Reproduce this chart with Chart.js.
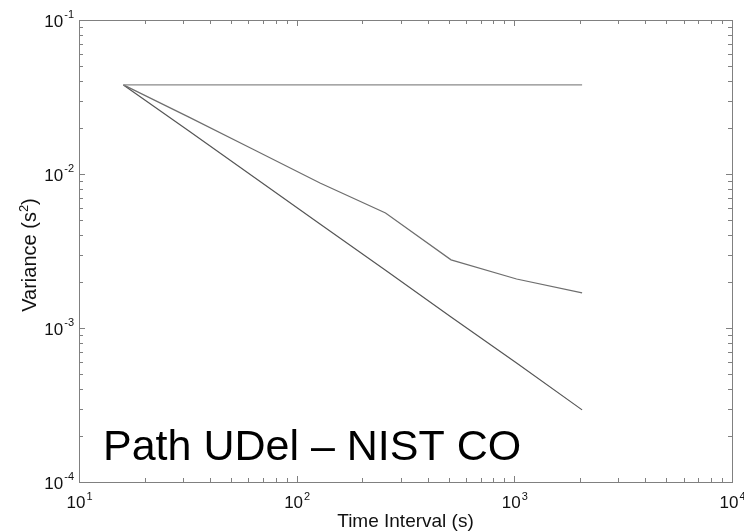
<!DOCTYPE html>
<html>
<head>
<meta charset="utf-8">
<script src="https://cdn.jsdelivr.net/npm/chart.js@4/dist/chart.umd.min.js"></script>
<style>
  html, body { margin: 0; padding: 0; background: #fff; }
  #wrap { width: 744px; height: 532px; }
</style>
</head>
<body>
<div id="wrap"><canvas id="chart" width="744" height="532"></canvas></div>
<script>
// time intervals (s)
const tau = [16, 32, 64, 128, 256, 512, 1024, 2048];

// variance curves (s^2)
const flatVar = [0.0379, 0.0379, 0.0379, 0.0379, 0.0379, 0.0379, 0.0379, 0.0379];
const midVar = [0.0379, 0.0234, 0.0143, 0.00875, 0.00558, 0.00277, 0.00208, 0.00169];
const lowVar = [0.0379, 0.0190, 0.00948, 0.00474, 0.00237, 0.00118, 0.000592, 0.000294];

// decade tick exponents
const xExps = [1, 2, 3, 4];
const yExps = [-1, -2, -3, -4];

const label = 'Path UDel \u2013 NIST CO';

function toPoints(vals) {
    return tau.map((t, i) => ({ x: t, y: vals[i] }));
}

const FONT = '"Liberation Sans", Arial, sans-serif';

// draws the box, inward ticks, power-of-ten labels and titles
const framePlugin = {
    id: 'frame',
    afterDraw(chart) {
        const ctx = chart.ctx;
        const a = chart.chartArea;
        const xs = chart.scales.x;
        const ys = chart.scales.y;
        ctx.save();
        ctx.strokeStyle = '#808080';
        ctx.lineWidth = 1;
        ctx.strokeRect(Math.round(a.left) + 0.5, Math.round(a.top) + 0.5,
            Math.round(a.right - a.left), Math.round(a.bottom - a.top));

        ctx.beginPath();
        // x ticks
        for (let e = 1; e < 4; e++) {
            for (let m = 1; m < 10; m++) {
                const px = Math.round(xs.getPixelForValue(m * Math.pow(10, e))) + 0.5;
                const len = m === 1 ? 6 : 4;
                ctx.moveTo(px, a.bottom); ctx.lineTo(px, a.bottom - len);
                ctx.moveTo(px, a.top); ctx.lineTo(px, a.top + len);
            }
        }
        // y ticks
        for (let e = -4; e < 0; e++) {
            for (let m = 1; m < 10; m++) {
                const v = m * Math.pow(10, e);
                if (v > 0.1 + 1e-9) continue;
                const py = Math.round(ys.getPixelForValue(v)) + 0.5;
                const len = m === 1 ? 6 : 4;
                ctx.moveTo(a.left, py); ctx.lineTo(a.left + len, py);
                ctx.moveTo(a.right, py); ctx.lineTo(a.right - len, py);
            }
        }
        ctx.stroke();

        const base = '17px ' + FONT;
        const sup = '11px ' + FONT;
        ctx.fillStyle = '#111';
        ctx.textBaseline = 'alphabetic';

        // x labels
        xExps.forEach(e => {
            const px = xs.getPixelForValue(Math.pow(10, e));
            ctx.font = base;
            const w1 = ctx.measureText('10').width;
            ctx.font = sup;
            const w2 = ctx.measureText(String(e)).width;
            const x0 = px - (w1 + w2) / 2;
            ctx.font = base;
            ctx.textAlign = 'left';
            ctx.fillText('10', x0, 508);
            ctx.font = sup;
            ctx.fillText(String(e), x0 + w1 + 1, 500);
        });

        // y labels
        yExps.forEach(e => {
            const py = ys.getPixelForValue(Math.pow(10, e));
            ctx.font = sup;
            const s = '-' + Math.abs(e);
            const w2 = ctx.measureText(s).width;
            ctx.textAlign = 'left';
            const right = a.left - 5;
            ctx.fillText(s, right - w2, py - 2);
            ctx.font = base;
            const w1 = ctx.measureText('10').width;
            ctx.fillText('10', right - w2 - w1 - 1, py + 7);
        });

        // x title
        ctx.font = '19px ' + FONT;
        ctx.textAlign = 'center';
        ctx.fillText('Time Interval (s)', (a.left + a.right) / 2, 527);

        // y title with superscript
        ctx.save();
        ctx.translate(36, 255);
        ctx.rotate(-Math.PI / 2);
        ctx.font = '20px ' + FONT;
        const t1 = 'Variance (s';
        const t2 = ')';
        const w1 = ctx.measureText(t1).width;
        const w3 = ctx.measureText(t2).width;
        ctx.font = '13px ' + FONT;
        const w2 = ctx.measureText('2').width;
        const x0 = -(w1 + w2 + w3) / 2;
        ctx.textAlign = 'left';
        ctx.font = '20px ' + FONT;
        ctx.fillText(t1, x0, 0);
        ctx.font = '13px ' + FONT;
        ctx.fillText('2', x0 + w1, -8);
        ctx.font = '20px ' + FONT;
        ctx.fillText(t2, x0 + w1 + w2, 0);
        ctx.restore();

        // big annotation
        ctx.fillStyle = '#000';
        ctx.font = '43px ' + FONT;
        ctx.textAlign = 'left';
        ctx.fillText(label, 103, 460);
        ctx.restore();
    }
};

new Chart(document.getElementById('chart'), {
    type: 'line',
    data: {
        datasets: [
            { data: toPoints(flatVar), borderColor: '#8a8a8a' },
            { data: toPoints(midVar), borderColor: '#6e6e6e' },
            { data: toPoints(lowVar), borderColor: '#555555' }
        ]
    },
    options: {
        responsive: false,
        animation: false,
        devicePixelRatio: 1,
        layout: { padding: { left: 79, top: 20, right: 12, bottom: 50 } },
        elements: {
            line: { borderWidth: 1.2, tension: 0, fill: false },
            point: { radius: 0, hoverRadius: 0 }
        },
        plugins: { legend: { display: false }, tooltip: { enabled: false } },
        scales: {
            x: { type: 'logarithmic', min: 10, max: 10000, display: false },
            y: { type: 'logarithmic', min: 0.0001, max: 0.1, display: false }
        }
    },
    plugins: [framePlugin]
});
</script>
</body>
</html>
